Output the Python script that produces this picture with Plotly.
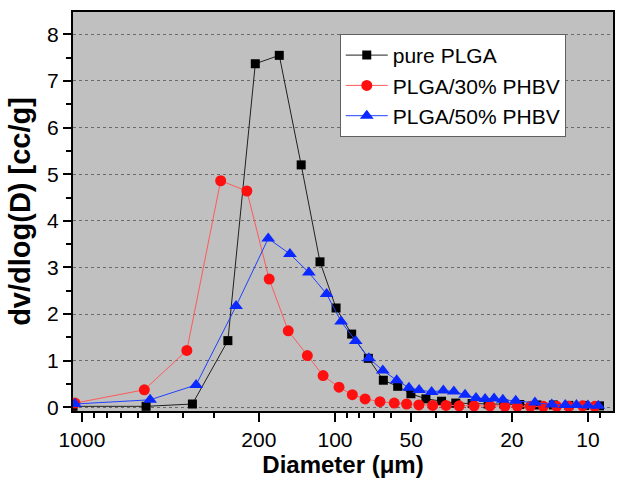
import plotly.graph_objects as go

# ---- data ----
plga_d = [1085, 558, 366, 265, 206.5, 166, 136, 114.6, 99, 85.9, 73.8, 64.4, 56.5, 50.1,
          43.7, 37.9, 33.3, 28.7, 24.8, 21.5, 18.6, 15.9, 13.7, 11.9, 10.3, 9.0]
plga_v = [0.02, 0.02, 0.07, 1.43, 7.37, 7.55, 5.2, 3.12, 2.13, 1.57, 1.05, 0.58, 0.45, 0.29,
          0.18, 0.13, 0.09, 0.08, 0.07, 0.07, 0.06, 0.05, 0.05, 0.04, 0.04, 0.03]

p30_d = [1066, 567, 385, 283, 223, 182, 153, 128.6, 111.4, 96.4, 85.4, 76.0, 66.4, 58.3,
         52.1, 46.6, 41.1, 36.4, 32.3, 28.2, 24.4, 21.3, 19.0, 16.9, 15.0, 13.3, 11.9, 10.5, 9.4]
p30_v = [0.09, 0.375, 1.22, 4.86, 4.64, 2.75, 1.64, 1.11, 0.68, 0.43, 0.27, 0.18, 0.12, 0.09,
         0.07, 0.05, 0.04, 0.04, 0.03, 0.03, 0.03, 0.02, 0.02, 0.02, 0.02, 0.02, 0.02, 0.03, 0.02]

p50_d = [1066, 538, 354, 246, 183.6, 150.7, 126.8, 107.9, 94.6, 82.8, 73.4, 64.7, 57.0, 51.0,
         46.5, 41.5, 37.3, 33.9, 30.6, 27.7, 25.5, 23.5, 21.7, 19.3, 16.2, 13.9, 12.3, 11.1, 10.0, 9.1]
p50_v = [0.07, 0.16, 0.48, 2.17, 3.62, 3.29, 2.89, 2.43, 1.84, 1.42, 1.05, 0.79, 0.58, 0.42,
         0.37, 0.33, 0.36, 0.34, 0.27, 0.20, 0.18, 0.19, 0.16, 0.14, 0.10, 0.06, 0.05, 0.05, 0.04, 0.03]

series_names = ["pure PLGA", "PLGA/30% PHBV", "PLGA/50% PHBV"]
x_tickvals = [1000, 200, 100, 50, 20, 10]
x_ticktext = ["1000", "200", "100", "50", "20", "10"]
x_minor = [900, 800, 700, 600, 500, 400, 300, 90, 80, 70, 60, 40, 30, 9]
y_tickvals = [0, 1, 2, 3, 4, 5, 6, 7, 8]

FONT = "Liberation Sans, Arial, sans-serif"

fig = go.Figure()
fig.add_trace(go.Scatter(x=plga_d, y=plga_v, name=series_names[0], mode="lines+markers",
                         line=dict(color="#202020", width=1),
                         marker=dict(symbol="square", size=9, color="black")))
fig.add_trace(go.Scatter(x=p30_d, y=p30_v, name=series_names[1], mode="lines+markers",
                         line=dict(color="#ff5a5a", width=1),
                         marker=dict(symbol="circle", size=11, color="#ff1010")))
fig.add_trace(go.Scatter(x=p50_d, y=p50_v, name=series_names[2], mode="lines+markers",
                         line=dict(color="#2040ff", width=1),
                         marker=dict(symbol="triangle-up", size=12, color="#0a28ff")))

fig.update_layout(
    width=619, height=484,
    margin=dict(l=73, r=6, t=12, b=73, autoexpand=False),
    paper_bgcolor="white",
    plot_bgcolor="#c0c0c0",
    font=dict(family=FONT, size=21, color="black"),
    showlegend=True,
    legend=dict(x=0.494, y=0.945, xanchor="left", yanchor="top",
                bgcolor="white", bordercolor="#606060", borderwidth=1,
                font=dict(family=FONT, size=21), itemwidth=42,
                tracegroupgap=0),
)

fig.update_xaxes(
    type="log", range=[3.0355, 0.901], automargin=False,
    tickmode="array", tickvals=x_tickvals, ticktext=x_ticktext,
    ticks="outside", ticklen=9, tickwidth=2, tickcolor="black",
    minor=dict(tickmode="array", tickvals=x_minor, ticks="outside", ticklen=5,
               tickwidth=2, tickcolor="black", showgrid=False),
    showline=True, linewidth=2, linecolor="black", mirror=True,
    showgrid=False, zeroline=False,
    tickfont=dict(size=21),
    title=dict(text="<b>Diameter (\u03bcm)</b>", font=dict(size=24), standoff=6),
)
fig.update_yaxes(
    range=[-0.08, 8.48], automargin=False,
    tickmode="array", tickvals=y_tickvals,
    ticks="outside", ticklen=8, tickwidth=2, tickcolor="black",
    minor=dict(dtick=0.5, ticks="outside", ticklen=5, tickwidth=2,
               tickcolor="black", showgrid=False),
    showline=True, linewidth=2, linecolor="black", mirror=True,
    showgrid=True, gridcolor="#6a6a6a", gridwidth=1, griddash="dot",
    zeroline=False,
    tickfont=dict(size=21),
    title=dict(text="<b>dv/dlog(D) [cc/g]</b>", font=dict(size=29), standoff=8),
)

fig.write_html("out.html",
               config={"displayModeBar": False},
               post_script="document.body.style.margin='0';document.body.style.overflow='hidden';")
